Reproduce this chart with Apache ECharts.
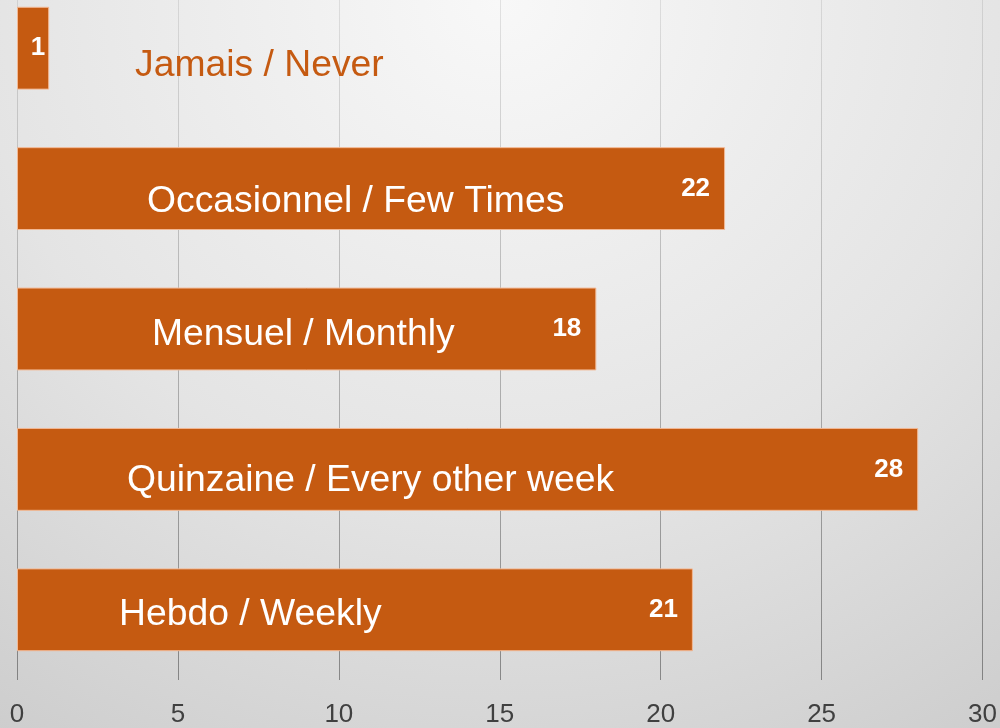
<!DOCTYPE html>
<html>
<head>
<meta charset="utf-8">
<script src="https://cdn.jsdelivr.net/npm/echarts@6/dist/echarts.min.js"></script>
<style>
  html, body { margin: 0; padding: 0; }
  body {
    position: relative;
    width: 1000px; height: 728px; overflow: hidden;
    background: radial-gradient(ellipse 95% 125% at 50% 0%, #f8f8f8 0%, #e4e4e4 55%, #cbcbcb 100%);
  }
  /* top band of the chart is cut off in the original, so shift the canvas up */
  #chart { position: absolute; left: 0; top: -22px; width: 1000px; height: 750px; }
</style>
</head>
<body>
<div id="chart"></div>
<script>
const categories = ['Jamais / Never', 'Occasionnel / Few Times', 'Mensuel / Monthly', 'Quinzaine / Every other week', 'Hebdo / Weekly']
const counts = [1, 22, 18, 28, 21]
const xTicks = [0, 5, 10, 15, 20, 25, 30]

// where the big name label sits inside each bar (px from bar's top-left)
const nameLabelPos = [[118, 59], [130, 55], [135, 47], [110, 53], [102, 46]]

const orange = '#C55A11'
const font = 'Liberation Sans, Arial, sans-serif'

const chart = echarts.init(document.getElementById('chart'))

chart.setOption({
  backgroundColor: 'transparent',
  animation: false,
  grid: { left: 17, right: 13, top: 0, bottom: 48 },
  xAxis: {
    type: 'value',
    min: xTicks[0],
    max: xTicks[xTicks.length - 1],
    interval: 5,
    axisLine: { show: false },
    axisTick: { show: false },
    axisLabel: { color: '#404040', fontSize: 26, fontFamily: font, margin: 22 },
    splitLine: {
      lineStyle: {
        width: 1,
        color: new echarts.graphic.LinearGradient(0, 0, 0, 1, [
          { offset: 0, color: 'rgba(0,0,0,0.08)' },
          { offset: 1, color: 'rgba(0,0,0,0.38)' }
        ])
      }
    }
  },
  yAxis: {
    type: 'category',
    data: categories,
    inverse: true,
    axisLine: { show: false },
    axisTick: { show: false },
    axisLabel: { show: false }
  },
  series: [
    {
      type: 'bar',
      data: counts.map(v => ({
        value: v,
        label: { distance: v < 3 ? 4 : 15 }
      })),
      barCategoryGap: '41%',
      itemStyle: { color: orange, borderColor: '#F2B894', borderWidth: 1 },
      label: {
        show: true,
        position: 'insideRight',
        color: '#fff',
        fontWeight: 'bold',
        fontSize: 26,
        fontFamily: font
      },
      z: 2
    },
    {
      type: 'bar',
      data: counts.map((v, i) => ({
        value: v,
        label: {
          position: nameLabelPos[i],
          color: v < 5 ? orange : '#fff'
        }
      })),
      barGap: '-100%',
      barCategoryGap: '41%',
      itemStyle: { color: 'transparent' },
      label: {
        show: true,
        formatter: '{b}',
        align: 'left',
        verticalAlign: 'middle',
        fontSize: 37.3,
        fontFamily: font
      },
      silent: true,
      z: 3
    }
  ]
})
</script>
</body>
</html>
